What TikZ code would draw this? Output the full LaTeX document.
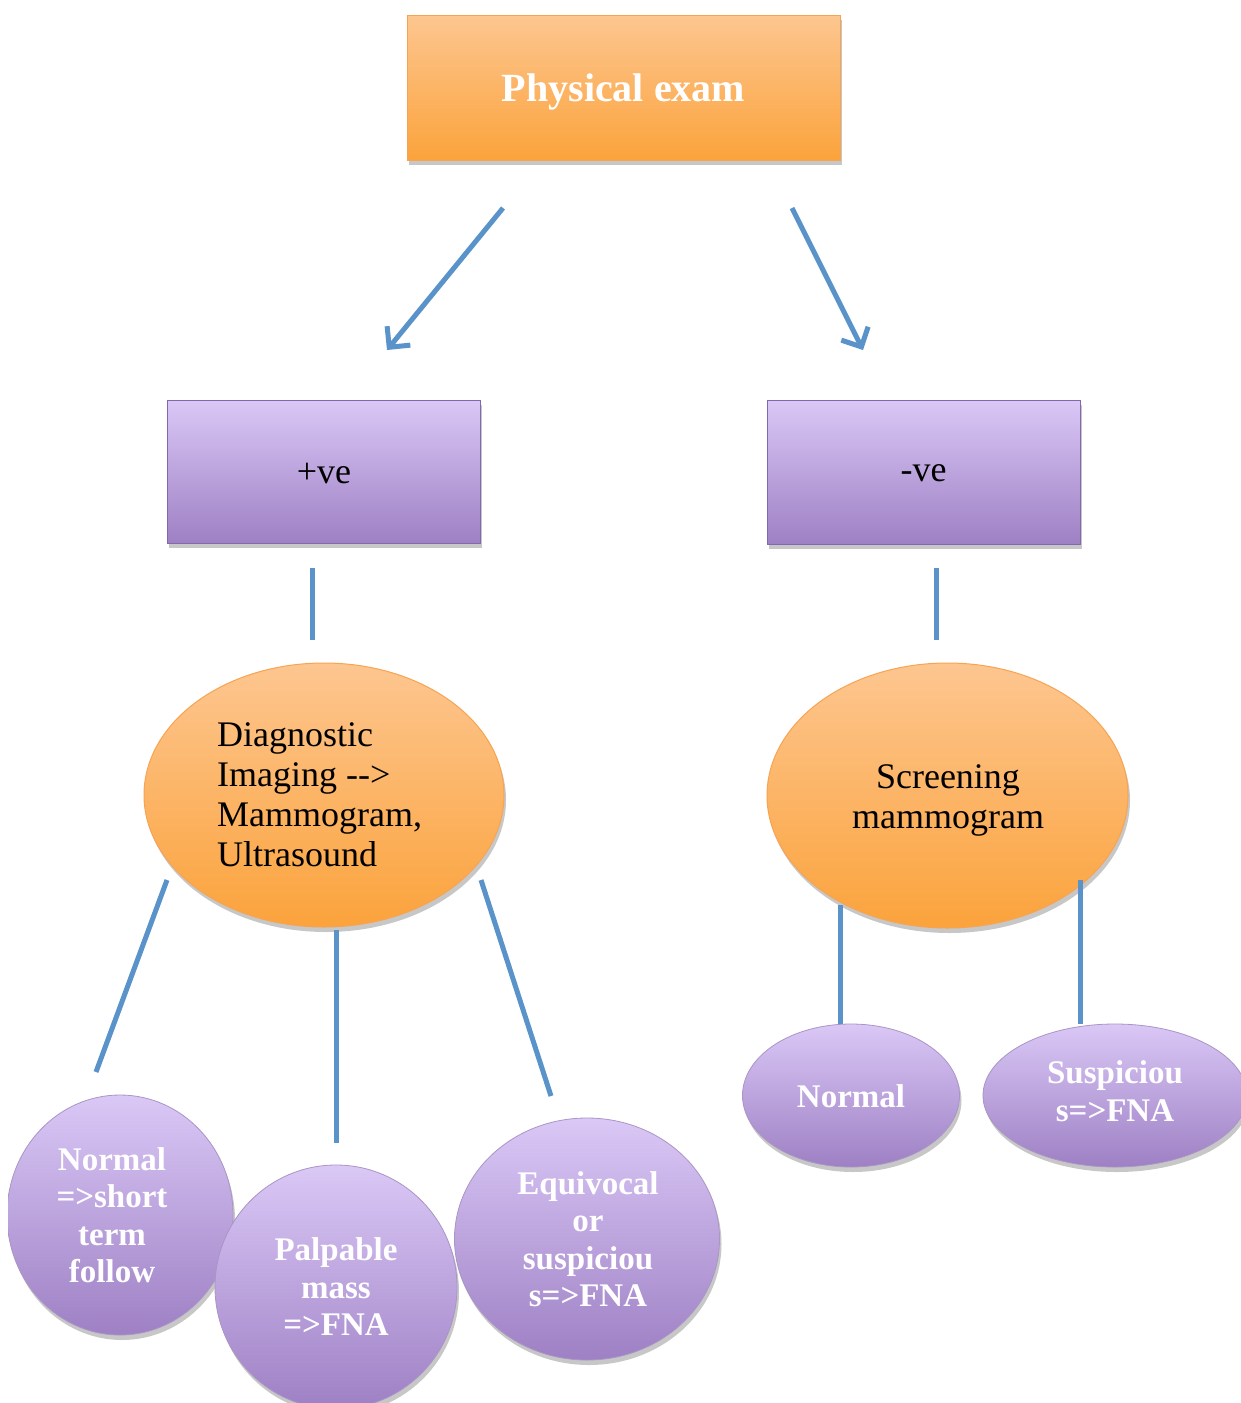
\documentclass[tikz,border=0pt]{standalone}
\usepackage{fontspec}
\setmainfont{Liberation Serif}
\usetikzlibrary{shapes.geometric,shadows,arrows.meta}
\definecolor{orTop}{HTML}{FDC690}
\definecolor{orBot}{HTML}{FBA33C}
\definecolor{orEdge}{HTML}{F7A452}
\definecolor{puTop}{HTML}{DAC8F6}
\definecolor{puBot}{HTML}{9E80C4}
\definecolor{puEdge}{HTML}{8468AE}
\definecolor{conn}{HTML}{5A93CA}
\tikzset{
  shad/.style={drop shadow={shadow xshift=2pt,shadow yshift=-5pt,opacity=0.22,fill=black}},
  orbox/.style={rectangle,shad,top color=orTop,bottom color=orBot,draw=orEdge,line width=1pt,inner sep=0pt},
  pubox/.style={rectangle,shad,top color=puTop,bottom color=puBot,draw=puEdge,line width=1pt,inner sep=0pt},
  orell/.style={ellipse,shad,top color=orTop,bottom color=orBot,draw=orEdge,line width=1pt,inner sep=0pt},
  puell/.style={ellipse,shad,top color=puTop,bottom color=puBot,draw=puEdge!70,line width=0.8pt,inner sep=0pt},
  reg/.style={font=\fontsize{36}{40}\selectfont,text=black},
  boldw/.style={font=\fontsize{33}{37.5}\selectfont\bfseries,text=white,align=center},
  conline/.style={draw=conn,line width=5pt},
  conarrow/.style={conline,-{Straight Barb[length=15pt,width=30pt,line width=5pt]}}
}
\begin{document}
\begin{tikzpicture}[x=1pt,y=-1pt]
\useasboundingbox (0,0) rectangle (1241,1403);
\fill[white] (0,0) rectangle (1241,1403);
\begin{scope}
\clip (8,0) rectangle (1241,1403);
% top box
\node[orbox,minimum width=433pt,minimum height=145pt] (phys) at (623.5,87.5) {};
\node[font=\fontsize{40}{44}\selectfont\bfseries,text=white,inner sep=0pt] (physt) at (623.5,92) {Physical exam};
% second level
\node[pubox,minimum width=313pt,minimum height=143pt,reg] (pos) at (323.5,471.5) {};
\node[reg,inner sep=0pt] (post) at (324,473) {+ve};
\node[pubox,minimum width=313pt,minimum height=144pt,reg] (neg) at (923.5,472) {};
\node[reg,inner sep=0pt] (negt) at (923.5,473) {-ve};
% third level
\node[orell,minimum width=360pt,minimum height=264pt] (diag) at (324,795) {};
\node[reg,align=left,anchor=west,inner sep=0pt] (diagt) at (217,795) {Diagnostic\\Imaging {-}{-}>\\Mammogram,\\Ultrasound};
\node[orell,minimum width=361pt,minimum height=265pt] (scr) at (947.5,795.5) {};
\node[reg,align=center,inner sep=0pt] (scrt) at (948,800) {Screening\\mammogram};
% bottom level left
\node[puell,minimum width=226pt,minimum height=240pt] (nor1) at (120,1215) {};
\node[boldw,inner sep=0pt] (nor1t) at (112,1215) {Normal\\=>short\\term\\follow};
\node[puell,minimum width=242pt,minimum height=244pt] (palp) at (336,1287) {};
\node[boldw,inner sep=0pt] (palpt) at (336,1287) {Palpable\\mass\\=>FNA};
\node[puell,minimum width=265pt,minimum height=242pt] (equi) at (587,1239) {};
\node[boldw,inner sep=0pt] (equit) at (588,1239) {Equivocal\\or\\suspiciou\\s=>FNA};
% bottom level right
\node[puell,minimum width=217pt,minimum height=143pt] (nor2) at (851,1095.5) {};
\node[boldw,inner sep=0pt] (nor2t) at (851,1096) {Normal};
\node[puell,minimum width=264pt,minimum height=143pt] (susp) at (1115,1095.5) {};
\node[boldw,inner sep=0pt] (suspt) at (1115,1091) {Suspiciou\\s=>FNA};
\end{scope}
% connectors
\coordinate (a1s) at (503,208); \coordinate (a1e) at (387,350);
\coordinate (a2s) at (792,208); \coordinate (a2e) at (863,350);
\draw[conarrow] (a1s) -- (a1e);
\draw[conarrow] (a2s) -- (a2e);
\coordinate (v1s) at (312,568); \coordinate (v1e) at (312,640);
\coordinate (v2s) at (936,568); \coordinate (v2e) at (936,640);
\draw[conline] (v1s) -- (v1e);
\draw[conline] (v2s) -- (v2e);
\coordinate (d1s) at (167,880); \coordinate (d1e) at (96,1072);
\coordinate (d2s) at (336,930); \coordinate (d2e) at (336,1143);
\coordinate (d3s) at (481,880); \coordinate (d3e) at (551,1096);
\draw[conline] (d1s) -- (d1e);
\draw[conline] (d2s) -- (d2e);
\draw[conline] (d3s) -- (d3e);
\coordinate (s1s) at (840,905); \coordinate (s1e) at (840,1024);
\coordinate (s2s) at (1080,880); \coordinate (s2e) at (1080,1024);
\draw[conline] (s1s) -- (s1e);
\draw[conline] (s2s) -- (s2e);
\end{tikzpicture}
\end{document}
